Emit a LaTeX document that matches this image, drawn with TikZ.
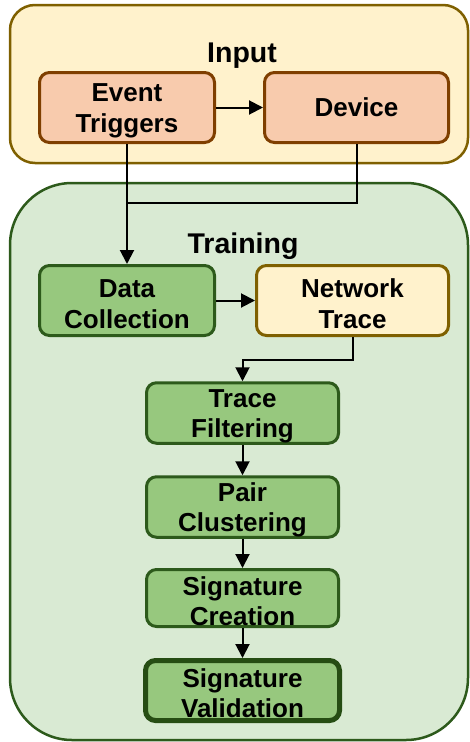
\documentclass[tikz,border=0pt]{standalone}
\usepackage{fontspec}
\setmainfont{Liberation Sans}
\usetikzlibrary{arrows.meta}

\definecolor{inpFill}{RGB}{255,242,204}
\definecolor{inpDraw}{RGB}{127,96,0}
\definecolor{srcFill}{RGB}{248,203,173}
\definecolor{srcDraw}{RGB}{127,63,0}
\definecolor{trnFill}{RGB}{217,234,211}
\definecolor{trnDraw}{RGB}{45,90,27}
\definecolor{stpFill}{RGB}{151,200,126}
\definecolor{stpDraw}{RGB}{38,77,19}

% two-line box label, first line pushed down a little
\newcommand{\twoln}[2]{\rule{0pt}{25pt}#1\\#2}

\tikzset{
  box/.style={rectangle, rounded corners=10pt, line width=3pt, inner sep=0pt,
    align=center, font=\fontsize{26}{31}\selectfont\bfseries},
  srcbox/.style={box, fill=srcFill, draw=srcDraw, minimum height=70pt},
  stepbox/.style={box, fill=stpFill, draw=trnDraw, minimum width=192pt,
    minimum height=57pt, font=\fontsize{26}{30}\selectfont\bfseries},
  flow/.style={line width=2pt, -{Triangle[length=14pt,width=14pt]}},
  title/.style={anchor=base, font=\fontsize{28.5}{32}\selectfont\bfseries}
}

\begin{document}
\begin{tikzpicture}[x=1pt, y=-1pt]
\useasboundingbox (0,0) rectangle (470,742);
%% Panel: input
\draw[fill=inpFill, draw=inpDraw, line width=2.5pt, rounded corners=25pt]
  (10,5) rectangle (468,163);
\node[title] (input) at (242,62) {Input};
\node[srcbox, minimum width=175pt] (trig) at (127,107.5) {\twoln{Event}{Triggers}};
\node[srcbox, minimum width=184pt] (dev) at (356.5,107.5) {Device};
%% Panel: training
\draw[fill=trnFill, draw=trnDraw, line width=2.5pt, rounded corners=62pt]
  (10,183) rectangle (468,740);
\node[title] (training) at (243,253) {Training};
\node[srcbox, fill=stpFill, draw=trnDraw, minimum width=175pt] (coll) at (127,300.5) {\twoln{Data}{Collection}};
\node[srcbox, fill=inpFill, draw=inpDraw, minimum width=192pt] (trace) at (352.5,300.5) {\twoln{Network}{Trace}};
\node[stepbox] (filt) at (242.5,413) {\twoln{Trace}{Filtering}};
\node[stepbox] (pair) at (242.5,507) {\twoln{Pair}{Clustering}};
\node[stepbox] (sig) at (242.5,598) {\twoln{Signature}{Creation}};
\node[stepbox, line width=5pt, draw=stpDraw, minimum width=194pt, minimum height=60pt]
  (valid) at (242.5,690.5) {\twoln{Signature}{Validation}};
%% connectors
\coordinate (join) at (127,203);
\draw[flow] (trig) -- (dev);
\draw[line width=2pt] (dev.south) |- (join);
\draw[flow] (trig.south) -- (coll.north);
\draw[flow] (coll) -- (trace);
\draw[flow] (trace.south) -- ++(0,23) -| (filt.north);
\draw[flow] (filt) -- (pair);
\draw[flow] (pair) -- (sig);
\draw[flow] (sig) -- (valid);
\end{tikzpicture}
\end{document}
